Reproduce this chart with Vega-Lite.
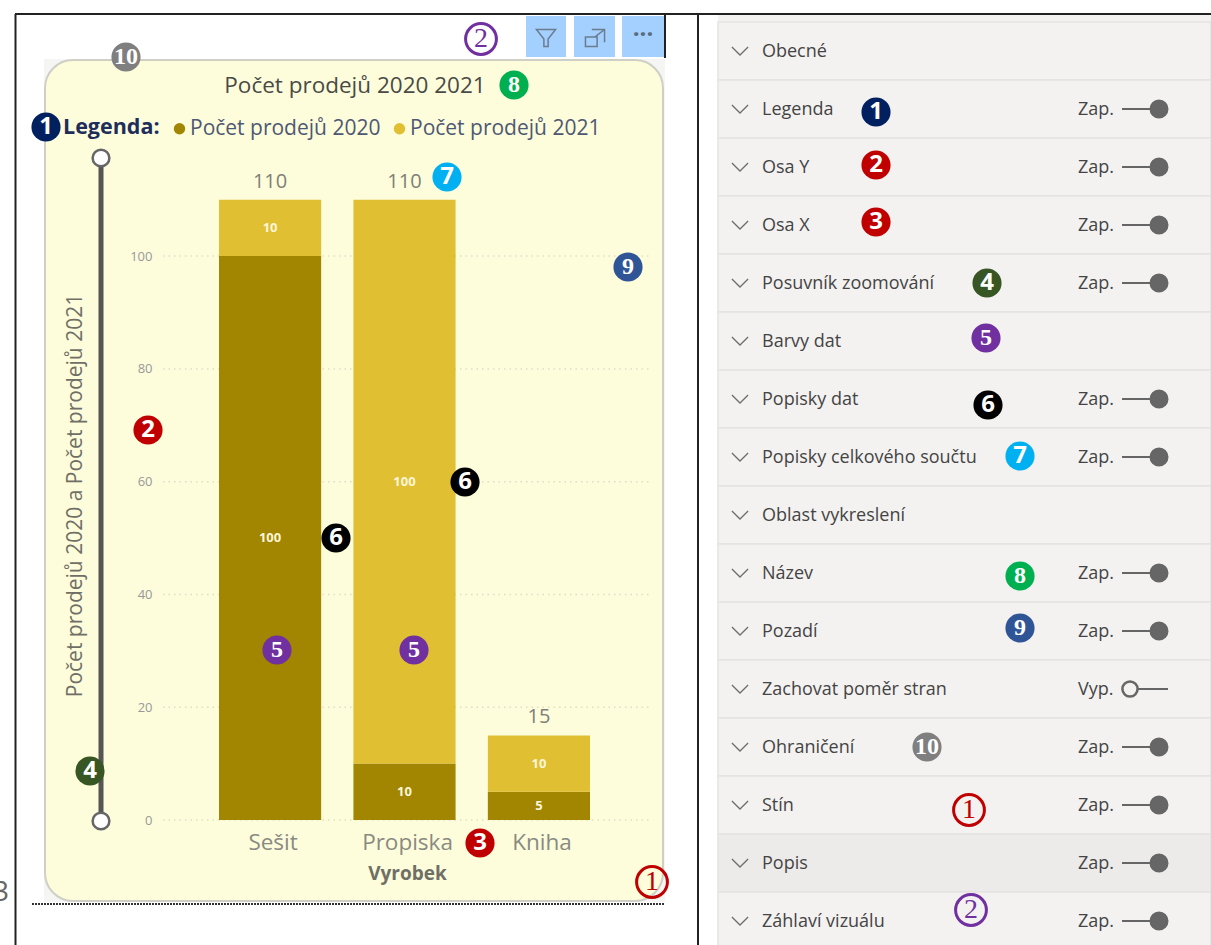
{"$schema":"https://vega.github.io/schema/vega-lite/v6.json","width":1211,"height":945,"padding":0,"autosize":{"type":"none"},"background":"white","config":{"view":{"stroke":null},"font":"Open Sans"},
"resolve":{"scale":{"x":"independent","y":"independent","color":"independent","shape":"independent"},"axis":{"x":"independent","y":"independent"},"legend":{"color":"independent"}},
"datasets":{
"sales":[{"product":"Sešit","series":"Počet prodejů 2020","value":100},{"product":"Sešit","series":"Počet prodejů 2021","value":10},{"product":"Propiska","series":"Počet prodejů 2020","value":10},{"product":"Propiska","series":"Počet prodejů 2021","value":100},{"product":"Kniha","series":"Počet prodejů 2020","value":5},{"product":"Kniha","series":"Počet prodejů 2021","value":10}],
"totals":[{"product":"Sešit","total":110},{"product":"Propiska","total":110},{"product":"Kniha","total":15}],
"ticks":[{"tick":0},{"tick":20},{"tick":40},{"tick":60},{"tick":80},{"tick":100}],
"panels":[{"part":"matte","x0":4.4,"x1":66.5,"y0":5.9,"y1":90.2},{"part":"head","x0":71.8,"x1":121.1,"y0":1.5,"y1":2.2},{"part":"btn","x0":52.6,"x1":56.6,"y0":1.6,"y1":5.7},{"part":"btn","x0":57.4,"x1":61.5,"y0":1.6,"y1":5.7},{"part":"btn","x0":62.2,"x1":66.5,"y0":1.6,"y1":5.7}],
"card":[{"x0":4.5,"x1":66.3,"y0":6,"y1":90.1}],
"hlines":[{"a":1.5,"b":121.1,"at":1.4}],
"vlines":[{"at":1.55,"a":1.4,"b":94.5},{"at":69.8,"a":1.4,"b":94.5},{"at":66.5,"a":1.4,"b":5.8}],
"dotted":[{"a":3.2,"b":66.5,"at":90.4}],
"icons":[{"name":"filter","x":54.6,"y":3.8},{"name":"expand","x":59.5,"y":3.8}],
"notes":[{"role":"title","t":"Počet prodejů 2020 2021","x":35.5,"y":8.6},{"role":"dots","t":"···","x":64.3,"y":3.5},{"role":"cut","t":"3","x":0.9,"y":89.3}],
"slider":[{"a":15.8,"b":82,"x":10.1}],
"ends":[{"x":10.1,"y":15.8},{"x":10.1,"y":82.1}],
"settings":[{"name":"Obecné"},{"name":"Legenda","state":"Zap."},{"name":"Osa Y","state":"Zap."},{"name":"Osa X","state":"Zap."},{"name":"Posuvník zoomování","state":"Zap."},{"name":"Barvy dat"},{"name":"Popisky dat","state":"Zap."},{"name":"Popisky celkového součtu","state":"Zap."},{"name":"Oblast vykreslení"},{"name":"Název","state":"Zap."},{"name":"Pozadí","state":"Zap."},{"name":"Zachovat poměr stran","state":"Vyp."},{"name":"Ohraničení","state":"Zap."},{"name":"Stín","state":"Zap."},{"name":"Popis","state":"Zap."},{"name":"Záhlaví vizuálu","state":"Zap."}],
"badges":[{"k":"1","x":4.6,"y":12.7},{"k":"1","x":87.6,"y":11.2},{"k":"2","x":14.8,"y":43},{"k":"2","x":87.6,"y":16.5},{"k":"3","x":48,"y":84.3},{"k":"3","x":87.6,"y":22.2},{"k":"4","x":9,"y":77.1},{"k":"4","x":98.7,"y":28.3},{"k":"5","x":27.7,"y":65},{"k":"5","x":41.4,"y":65},{"k":"5","x":98.6,"y":33.8},{"k":"6","x":33.6,"y":53.8},{"k":"6","x":46.5,"y":48.2},{"k":"6","x":98.8,"y":40.5},{"k":"7","x":44.7,"y":17.7},{"k":"7","x":102,"y":45.6},{"k":"8","x":51.4,"y":8.5},{"k":"8","x":102,"y":57.6},{"k":"9","x":62.8,"y":26.7},{"k":"9","x":102,"y":62.8},{"k":"10","x":12.6,"y":5.7},{"k":"10","x":92.7,"y":74.7},{"k":"o1","x":65.2,"y":88.2},{"k":"o1","x":96.9,"y":81},{"k":"o2","x":48.1,"y":3.9},{"k":"o2","x":97.1,"y":91}]
},
"layer":[
{"data":{"name":"panels"},"mark":{"type":"rect"},"encoding":{"x":{"field":"x0","type":"quantitative","scale":{"domain":[0,121.1]},"axis":null},"x2":{"field":"x1"},"y":{"field":"y0","type":"quantitative","scale":{"domain":[0,94.5],"range":[0,945]},"axis":null},"y2":{"field":"y1"},"color":{"field":"part","type":"nominal","legend":null,"scale":{"domain":["matte","head","btn"],"range":["#F5F5F3","#F3F2F1","#A3D0FF"]}}}},
{"data":{"name":"card"},"mark":{"type":"rect","cornerRadius":28,"fill":"#FDFDDC","stroke":"#CFCFC6","strokeWidth":2},"encoding":{"x":{"field":"x0","type":"quantitative","scale":{"domain":[0,121.1]},"axis":null},"x2":{"field":"x1"},"y":{"field":"y0","type":"quantitative","scale":{"domain":[0,94.5],"range":[0,945]},"axis":null},"y2":{"field":"y1"}}},
{"data":{"name":"hlines"},"mark":{"type":"rule","stroke":"#222","strokeWidth":2},"encoding":{"x":{"field":"a","type":"quantitative","scale":{"domain":[0,121.1]},"axis":null},"x2":{"field":"b"},"y":{"field":"at","type":"quantitative","scale":{"domain":[0,94.5],"range":[0,945]},"axis":null}}},
{"data":{"name":"vlines"},"mark":{"type":"rule","stroke":"#222","strokeWidth":2},"encoding":{"x":{"field":"at","type":"quantitative","scale":{"domain":[0,121.1]},"axis":null},"y":{"field":"a","type":"quantitative","scale":{"domain":[0,94.5],"range":[0,945]},"axis":null},"y2":{"field":"b"}}},
{"data":{"name":"dotted"},"mark":{"type":"rule","stroke":"#333","strokeWidth":2,"strokeDash":[2,1]},"encoding":{"x":{"field":"a","type":"quantitative","scale":{"domain":[0,121.1]},"axis":null},"x2":{"field":"b"},"y":{"field":"at","type":"quantitative","scale":{"domain":[0,94.5],"range":[0,945]},"axis":null}}},
{"data":{"name":"icons"},"mark":{"type":"point","filled":false,"size":450,"stroke":"#6B7C8F","strokeWidth":1.5,"opacity":1},"encoding":{"x":{"field":"x","type":"quantitative","scale":{"domain":[0,121.1]},"axis":null},"y":{"field":"y","type":"quantitative","scale":{"domain":[0,94.5],"range":[0,945]},"axis":null},"shape":{"field":"name","type":"nominal","legend":null,"scale":{"domain":["filter","expand"],"range":["M-0.9,-0.8L0.9,-0.8L0.2,0.1L0.2,0.8L-0.2,0.8L-0.2,0.1Z","M-0.9,-0.1L-0.9,0.8L0.2,0.8L0.2,-0.1Z M-0.3,-0.8L0.9,-0.8L0.9,0.4 M0,-0.1L0.9,-0.8"]}}}},
{"data":{"name":"notes"},"transform":[{"filter":"datum.role=='title'"}],"mark":{"type":"text","fontSize":22.5,"color":"#4A4A46"},"encoding":{"x":{"field":"x","type":"quantitative","scale":{"domain":[0,121.1]},"axis":null},"y":{"field":"y","type":"quantitative","scale":{"domain":[0,94.5],"range":[0,945]},"axis":null},"text":{"field":"t"}}},
{"data":{"name":"notes"},"transform":[{"filter":"datum.role=='dots'"}],"mark":{"type":"text","fontSize":24,"fontWeight":"bold","color":"#5A6B7D"},"encoding":{"x":{"field":"x","type":"quantitative","scale":{"domain":[0,121.1]},"axis":null},"y":{"field":"y","type":"quantitative","scale":{"domain":[0,94.5],"range":[0,945]},"axis":null},"text":{"field":"t"}}},
{"data":{"name":"notes"},"transform":[{"filter":"datum.role=='cut'"}],"mark":{"type":"text","fontSize":28,"align":"right","color":"#666"},"encoding":{"x":{"field":"x","type":"quantitative","scale":{"domain":[0,121.1]},"axis":null},"y":{"field":"y","type":"quantitative","scale":{"domain":[0,94.5],"range":[0,945]},"axis":null},"text":{"field":"t"}}},
{"data":{"name":"ticks"},"mark":{"type":"rule","stroke":"#DEDEC8","strokeWidth":1.5,"strokeDash":[1.5,4]},"encoding":{"x":{"datum":16.3,"type":"quantitative","scale":{"domain":[0,121.1]},"axis":null},"x2":{"datum":65},"y":{"field":"tick","type":"quantitative","scale":{"domain":[0,117.4],"range":[820,158],"nice":false},"axis":{"orient":"left","offset":-158,"zindex":1,"values":[0,20,40,60,80,100],"domain":false,"ticks":false,"grid":false,"labelFontSize":13,"labelColor":"#999999","labelPadding":6,"title":"Počet prodejů 2020 a Počet prodejů 2021","titleFontSize":21,"titleFontWeight":"normal","titleColor":"#6F6F66","titlePadding":44,"titleY":495}}}},
{"data":{"name":"sales"},"mark":{"type":"bar"},"encoding":{"x":{"field":"product","type":"nominal","scale":{"domain":["Sešit","Propiska","Kniha"],"range":[219,590],"paddingInner":0.24,"paddingOuter":0},"axis":{"orient":"bottom","offset":-125,"zindex":1,"domain":false,"ticks":false,"labelAngle":0,"labelFontSize":22.5,"labelColor":"#8A8A82","labelPadding":11,"labelOffset":3,"title":"Vyrobek","titleFontSize":19,"titleFontWeight":"bold","titleColor":"#6F6F66","titlePadding":11,"titleX":407}},"y":{"field":"value","type":"quantitative","stack":"zero","scale":{"domain":[0,117.4],"range":[820,158],"nice":false},"axis":null},"order":{"field":"series","sort":"ascending"},"color":{"field":"series","type":"nominal","scale":{"domain":["Počet prodejů 2020","Počet prodejů 2021"],"range":["#A28500","#E0BF33"]},"legend":{"orient":"none","legendX":63,"legendY":118,"direction":"horizontal","title":"Legenda:","titleOrient":"left","titleFontSize":21.5,"titleFontWeight":"bold","titleColor":"#1F2D5A","labelFontSize":21,"labelColor":"#4E5873","labelLimit":300,"symbolType":"circle","symbolSize":130,"columnPadding":8,"titlePadding":9,"labelOffset":0}}}},
{"data":{"name":"sales"},"transform":[{"stack":"value","groupby":["product"],"sort":[{"field":"series","order":"ascending"}],"as":["v0","v1"]},{"calculate":"(datum.v0+datum.v1)/2","as":"mid"}],"mark":{"type":"text","fontSize":13,"fontWeight":"bold","color":"#FBF6D8"},"encoding":{"x":{"field":"product","type":"nominal","scale":{"type":"band","domain":["Sešit","Propiska","Kniha"],"range":[219,590],"paddingInner":0.24,"paddingOuter":0},"axis":null},"y":{"field":"mid","type":"quantitative","scale":{"domain":[0,117.4],"range":[820,158],"nice":false},"axis":null},"text":{"field":"value"}}},
{"data":{"name":"totals"},"mark":{"type":"text","fontSize":20,"color":"#7F7F78","dy":-18},"encoding":{"x":{"field":"product","type":"nominal","scale":{"type":"band","domain":["Sešit","Propiska","Kniha"],"range":[219,590],"paddingInner":0.24,"paddingOuter":0},"axis":null},"y":{"field":"total","type":"quantitative","scale":{"domain":[0,117.4],"range":[820,158],"nice":false},"axis":null},"text":{"field":"total"}}},
{"data":{"name":"slider"},"mark":{"type":"rule","stroke":"#555","strokeWidth":5},"encoding":{"x":{"field":"x","type":"quantitative","scale":{"domain":[0,121.1]},"axis":null},"y":{"field":"a","type":"quantitative","scale":{"domain":[0,94.5],"range":[0,945]},"axis":null},"y2":{"field":"b"}}},
{"data":{"name":"ends"},"mark":{"type":"point","filled":true,"fill":"white","stroke":"#666","strokeWidth":2.5,"size":280,"opacity":1},"encoding":{"x":{"field":"x","type":"quantitative","scale":{"domain":[0,121.1]},"axis":null},"y":{"field":"y","type":"quantitative","scale":{"domain":[0,94.5],"range":[0,945]},"axis":null}}},
{"data":{"name":"settings"},"mark":{"type":"rect","stroke":"#E5E4E2","strokeWidth":1.5},"encoding":{"x":{"datum":71.8,"type":"quantitative","scale":{"domain":[0,121.1]},"axis":null},"x2":{"datum":121.1},"y":{"field":"name","type":"nominal","scale":{"domain":["Obecné","Legenda","Osa Y","Osa X","Posuvník zoomování","Barvy dat","Popisky dat","Popisky celkového součtu","Oblast vykreslení","Název","Pozadí","Zachovat poměr stran","Ohraničení","Stín","Popis","Záhlaví vizuálu"],"range":[22,950],"paddingInner":0,"paddingOuter":0},"axis":null},"fill":{"condition":{"test":"datum.name=='Popis'","value":"#ECEBEA"},"value":"#F3F2F1"}}},
{"data":{"name":"settings"},"mark":{"type":"point","filled":false,"shape":"M-1,-0.5L0,0.5L1,-0.5","size":260,"stroke":"#6E6E6E","strokeWidth":1.3,"opacity":1},"encoding":{"x":{"datum":74,"type":"quantitative","scale":{"domain":[0,121.1]},"axis":null},"y":{"field":"name","type":"nominal","scale":{"type":"band","domain":["Obecné","Legenda","Osa Y","Osa X","Posuvník zoomování","Barvy dat","Popisky dat","Popisky celkového součtu","Oblast vykreslení","Název","Pozadí","Zachovat poměr stran","Ohraničení","Stín","Popis","Záhlaví vizuálu"],"range":[22,950],"paddingInner":0,"paddingOuter":0},"axis":null}}},
{"data":{"name":"settings"},"mark":{"type":"text","align":"left","fontSize":18,"color":"#444444","dy":1},"encoding":{"x":{"datum":76.2,"type":"quantitative","scale":{"domain":[0,121.1]},"axis":null},"y":{"field":"name","type":"nominal","scale":{"type":"band","domain":["Obecné","Legenda","Osa Y","Osa X","Posuvník zoomování","Barvy dat","Popisky dat","Popisky celkového součtu","Oblast vykreslení","Název","Pozadí","Zachovat poměr stran","Ohraničení","Stín","Popis","Záhlaví vizuálu"],"range":[22,950],"paddingInner":0,"paddingOuter":0},"axis":null},"text":{"field":"name"}}},
{"data":{"name":"settings"},"transform":[{"filter":"datum.state"}],"mark":{"type":"text","align":"left","fontSize":18,"color":"#444444","dy":1},"encoding":{"x":{"datum":107.8,"type":"quantitative","scale":{"domain":[0,121.1]},"axis":null},"y":{"field":"name","type":"nominal","scale":{"type":"band","domain":["Obecné","Legenda","Osa Y","Osa X","Posuvník zoomování","Barvy dat","Popisky dat","Popisky celkového součtu","Oblast vykreslení","Název","Pozadí","Zachovat poměr stran","Ohraničení","Stín","Popis","Záhlaví vizuálu"],"range":[22,950],"paddingInner":0,"paddingOuter":0},"axis":null},"text":{"field":"state"}}},
{"data":{"name":"settings"},"transform":[{"filter":"datum.state"}],"mark":{"type":"rule","stroke":"#666","strokeWidth":2},"encoding":{"x":{"datum":112.2,"type":"quantitative","scale":{"domain":[0,121.1]},"axis":null},"x2":{"datum":116.8},"y":{"field":"name","type":"nominal","scale":{"type":"band","domain":["Obecné","Legenda","Osa Y","Osa X","Posuvník zoomování","Barvy dat","Popisky dat","Popisky celkového součtu","Oblast vykreslení","Název","Pozadí","Zachovat poměr stran","Ohraničení","Stín","Popis","Záhlaví vizuálu"],"range":[22,950],"paddingInner":0,"paddingOuter":0},"axis":null}}},
{"data":{"name":"settings"},"transform":[{"filter":"datum.state=='Zap.'"}],"mark":{"type":"point","filled":true,"fill":"#666","stroke":"#666","size":290,"opacity":1},"encoding":{"x":{"datum":115.9,"type":"quantitative","scale":{"domain":[0,121.1]},"axis":null},"y":{"field":"name","type":"nominal","scale":{"type":"band","domain":["Obecné","Legenda","Osa Y","Osa X","Posuvník zoomování","Barvy dat","Popisky dat","Popisky celkového součtu","Oblast vykreslení","Název","Pozadí","Zachovat poměr stran","Ohraničení","Stín","Popis","Záhlaví vizuálu"],"range":[22,950],"paddingInner":0,"paddingOuter":0},"axis":null}}},
{"data":{"name":"settings"},"transform":[{"filter":"datum.state=='Vyp.'"}],"mark":{"type":"point","filled":true,"fill":"#F3F2F1","stroke":"#666","strokeWidth":2.5,"size":230,"opacity":1},"encoding":{"x":{"datum":113,"type":"quantitative","scale":{"domain":[0,121.1]},"axis":null},"y":{"field":"name","type":"nominal","scale":{"type":"band","domain":["Obecné","Legenda","Osa Y","Osa X","Posuvník zoomování","Barvy dat","Popisky dat","Popisky celkového součtu","Oblast vykreslení","Název","Pozadí","Zachovat poměr stran","Ohraničení","Stín","Popis","Záhlaví vizuálu"],"range":[22,950],"paddingInner":0,"paddingOuter":0},"axis":null}}},
{"data":{"name":"badges"},"transform":[{"filter":"datum.k!='o1'&&datum.k!='o2'"}],"mark":{"type":"point","filled":true,"size":850,"opacity":1,"shape":"circle"},"encoding":{"x":{"field":"x","type":"quantitative","scale":{"domain":[0,121.1]},"axis":null},"y":{"field":"y","type":"quantitative","scale":{"domain":[0,94.5],"range":[0,945]},"axis":null},"color":{"field":"k","type":"nominal","legend":null,"scale":{"domain":["1","2","3","4","5","6","7","8","9","10"],"range":["#002060","#C00000","#C00000","#375623","#7030A0","#000000","#00B0F0","#00B050","#2F5597","#7F7F7F"]}}}},
{"data":{"name":"badges"},"transform":[{"filter":"datum.k=='o1'||datum.k=='o2'"}],"mark":{"type":"point","filled":false,"size":950,"opacity":1,"shape":"circle","strokeWidth":3},"encoding":{"x":{"field":"x","type":"quantitative","scale":{"domain":[0,121.1]},"axis":null},"y":{"field":"y","type":"quantitative","scale":{"domain":[0,94.5],"range":[0,945]},"axis":null},"color":{"field":"k","type":"nominal","legend":null,"scale":{"domain":["o1","o2"],"range":["#C00000","#7030A0"]}}}},
{"data":{"name":"badges"},"transform":[{"filter":"indexof(['1','2','3','4','6','7'],datum.k)>=0"}],"mark":{"type":"text","fontSize":24,"fontWeight":"bold","color":"white"},"encoding":{"x":{"field":"x","type":"quantitative","scale":{"domain":[0,121.1]},"axis":null},"y":{"field":"y","type":"quantitative","scale":{"domain":[0,94.5],"range":[0,945]},"axis":null},"text":{"field":"k"}}},
{"data":{"name":"badges"},"transform":[{"filter":"indexof(['5','8','9','10'],datum.k)>=0"}],"mark":{"type":"text","fontSize":24,"font":"Liberation Serif","fontWeight":"bold","color":"white"},"encoding":{"x":{"field":"x","type":"quantitative","scale":{"domain":[0,121.1]},"axis":null},"y":{"field":"y","type":"quantitative","scale":{"domain":[0,94.5],"range":[0,945]},"axis":null},"text":{"field":"k"}}},
{"data":{"name":"badges"},"transform":[{"filter":"datum.k=='o1'"}],"mark":{"type":"text","fontSize":28,"font":"Liberation Serif","color":"#C00000"},"encoding":{"x":{"field":"x","type":"quantitative","scale":{"domain":[0,121.1]},"axis":null},"y":{"field":"y","type":"quantitative","scale":{"domain":[0,94.5],"range":[0,945]},"axis":null},"text":{"value":"1"}}},
{"data":{"name":"badges"},"transform":[{"filter":"datum.k=='o2'"}],"mark":{"type":"text","fontSize":28,"font":"Liberation Serif","color":"#7030A0"},"encoding":{"x":{"field":"x","type":"quantitative","scale":{"domain":[0,121.1]},"axis":null},"y":{"field":"y","type":"quantitative","scale":{"domain":[0,94.5],"range":[0,945]},"axis":null},"text":{"value":"2"}}}
]}
